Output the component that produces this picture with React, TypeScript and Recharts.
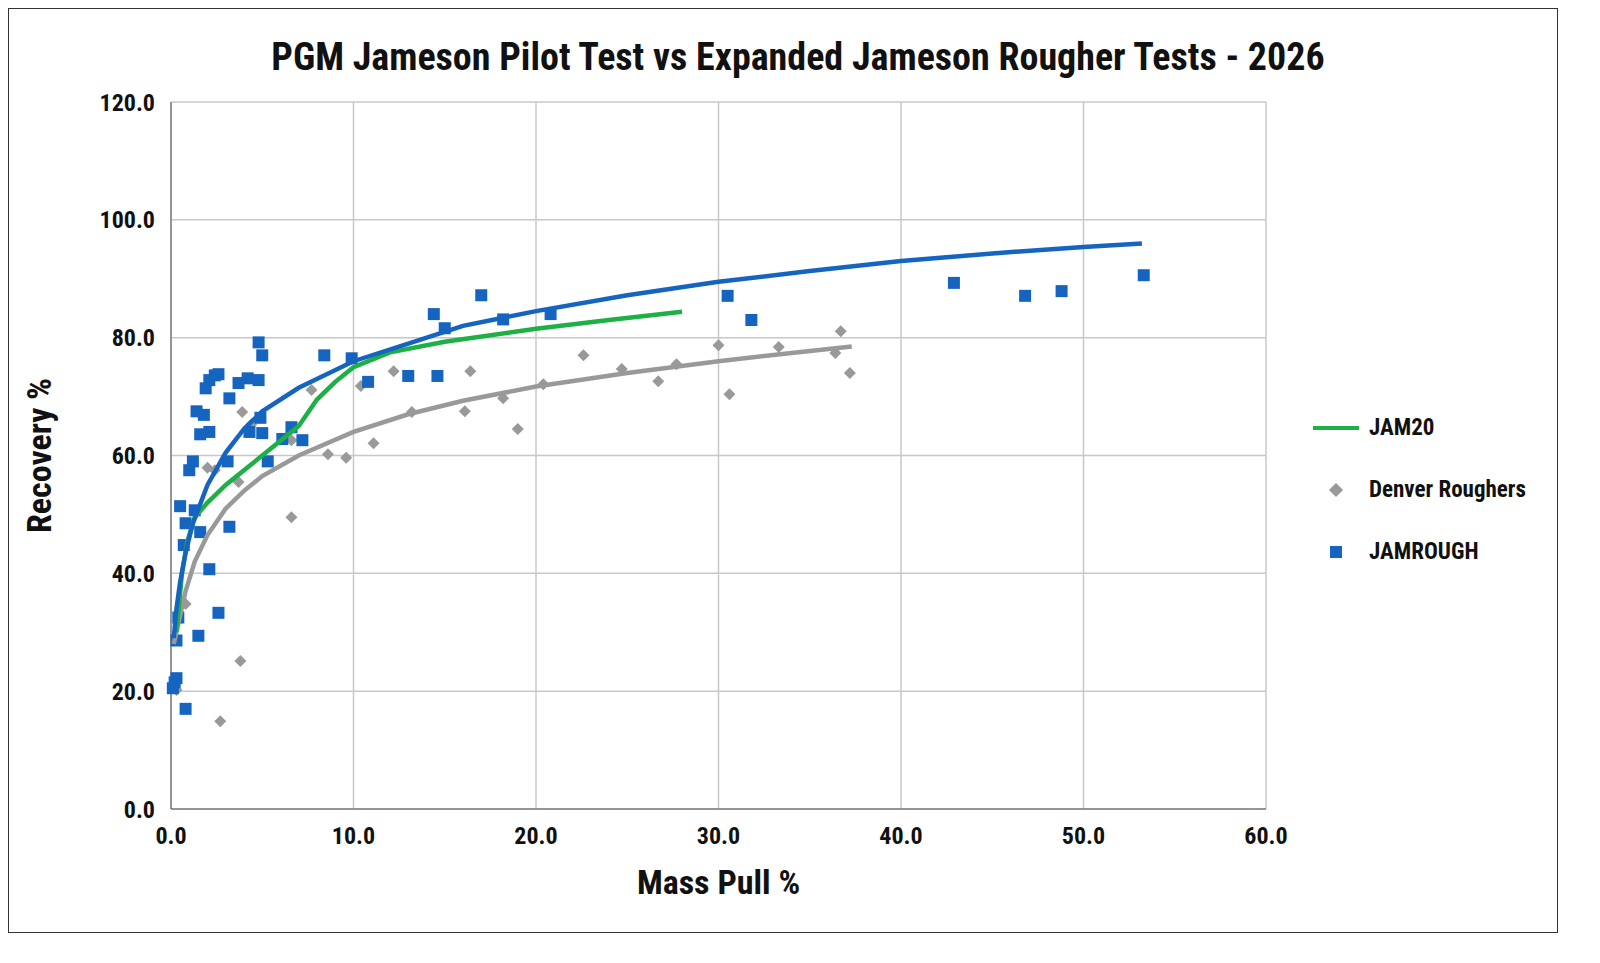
import { ComposedChart, Scatter, XAxis, YAxis, CartesianGrid } from "recharts";

const jamRough = [
  [0.1, 20.5], [0.3, 22.2], [0.2, 21.5], [0.8, 17], [0.5, 51.4], [0.7, 44.8], [0.8, 48.5], [0.3, 28.6], [0.4, 32.5],
  [1.0, 57.5], [1.2, 59], [1.3, 50.7], [1.5, 29.4], [1.6, 47], [1.4, 67.5], [1.6, 63.6], [1.8, 66.9],
  [1.9, 71.4], [2.1, 72.8], [2.4, 73.6], [2.6, 73.8], [2.1, 64], [2.1, 40.7], [2.6, 33.3], [3.2, 47.9],
  [3.1, 59], [3.2, 69.7], [3.7, 72.3], [4.2, 73.1], [4.3, 64], [4.8, 79.2], [5.0, 77], [4.8, 72.8],
  [4.9, 66.4], [5.0, 63.8], [5.3, 59], [6.1, 62.8], [6.6, 64.8], [7.2, 62.6], [8.4, 77], [9.9, 76.5],
  [10.8, 72.5], [13.0, 73.5], [14.4, 84], [14.6, 73.5], [15.0, 81.6], [17.0, 87.2], [18.2, 83.1],
  [20.8, 84], [30.5, 87.1], [31.8, 83], [42.9, 89.3], [46.8, 87.1], [48.8, 87.9], [53.3, 90.6],
].map(([x, y]) => ({ x, y }));

const denver = [
  [0.4, 32], [0.8, 34.8], [0.3, 20.2], [2.7, 14.9], [3.8, 25.1], [2.0, 57.9], [2.4, 57.5], [3.7, 55.5],
  [3.9, 67.4], [4.4, 65.3], [6.6, 49.5], [6.6, 62.6], [7.7, 71.1], [8.6, 60.2], [9.6, 59.6], [10.4, 71.8],
  [11.1, 62.1], [12.2, 74.3], [13.2, 67.4], [16.1, 67.5], [16.4, 74.3], [18.2, 69.7], [19.0, 64.5],
  [20.4, 72.1], [22.6, 77], [24.7, 74.7], [26.7, 72.6], [27.7, 75.5], [30.0, 78.7], [30.6, 70.4],
  [33.3, 78.4], [36.4, 77.4], [36.7, 81.1], [37.2, 74],
].map(([x, y]) => ({ x, y }));

// trend lines
const jamRoughTrend = [
  [0.15, 29], [0.3, 34], [0.5, 38.5], [0.8, 43.5], [1.2, 48.5], [2, 55], [3, 60.5], [4, 64.5], [5, 67.5],
  [7, 71.5], [10, 76], [13, 79], [16, 82], [20, 84.5], [25, 87.2], [30, 89.5], [35, 91.3], [40, 93],
  [45, 94.3], [50, 95.4], [53.2, 96],
].map(([x, y]) => ({ x, y }));

const jam20 = [
  [0.3, 30], [0.6, 40], [0.9, 45.5], [1.3, 49.5], [2, 52], [3, 55], [4, 57.5], [5, 60], [6, 62.5],
  [7, 65], [8, 69.5], [9, 72.5], [10, 75], [12, 77.5], [15, 79.3], [20, 81.5], [24, 83], [28, 84.4],
].map(([x, y]) => ({ x, y }));

const denverTrend = [
  [0.15, 28], [0.4, 31.5], [0.8, 37], [1.3, 42], [2, 46.5], [3, 51], [4, 54], [5, 56.5], [7, 60],
  [10, 64], [13, 67], [16, 69.3], [20, 71.7], [25, 74], [30, 76], [34, 77.4], [37.3, 78.5],
].map(([x, y]) => ({ x, y }));

const xTicks = [0, 10, 20, 30, 40, 50, 60];
const yTicks = [0, 20, 40, 60, 80, 100, 120];

const BLUE = "#1565c0";
const GREEN = "#1db045";
const GRAY = "#999999";
const FONT = "'Liberation Sans Narrow', 'Arial Narrow', 'Roboto Condensed', Roboto, sans-serif";

const Square = (p: any) => <rect x={p.cx - 6} y={p.cy - 6} width={12} height={12} fill={BLUE} />;
const Diamond = (p: any) => (
  <polygon points={`${p.cx},${p.cy - 6} ${p.cx + 6},${p.cy} ${p.cx},${p.cy + 6} ${p.cx - 6},${p.cy}`} fill={GRAY} />
);
const NoDot = () => null;

export default function App() {
  return (
    <div style={{ position: "relative", width: 1550, height: 925, border: "1.5px solid #333", boxSizing: "border-box", background: "#fff", fontFamily: FONT }}>
      <div style={{ position: "absolute", top: 26, left: 0, width: "100%", paddingLeft: 30, boxSizing: "border-box", textAlign: "center", fontSize: 38, fontWeight: 700, color: "#111" }}>
        PGM Jameson Pilot Test vs Expanded Jameson Rougher Tests - 2026
      </div>
      <ComposedChart width={1548} height={923} margin={{ top: 93, right: 291, left: 82, bottom: 93 }}>
        <CartesianGrid stroke="#c8c8c8" strokeWidth={1.5} />
        <XAxis type="number" dataKey="x" domain={[0, 60]} ticks={xTicks} tickFormatter={(v) => v.toFixed(1)}
          stroke="#555" tickLine={false} height={30} tickMargin={12} tick={{ fill: "#111", fontSize: 24, fontWeight: 700, fontFamily: FONT }}
          label={{ value: "Mass Pull %", position: "insideBottom", offset: -55, fill: "#111", fontSize: 34, fontWeight: 700, fontFamily: FONT }} />
        <YAxis type="number" dataKey="y" domain={[0, 120]} ticks={yTicks} tickFormatter={(v) => v.toFixed(1)}
          stroke="#555" tickLine={false} width={80} tickMargin={10} tick={{ fill: "#111", fontSize: 24, fontWeight: 700, fontFamily: FONT }}
          label={{ value: "Recovery %", angle: -90, position: "insideLeft", offset: -52, fill: "#111", fontSize: 34, fontWeight: 700, fontFamily: FONT, style: { textAnchor: "middle" } }} />
        <Scatter data={denver} shape={Diamond} isAnimationActive={false} />
        <Scatter data={jamRough} shape={Square} isAnimationActive={false} />
        <Scatter data={denverTrend} shape={NoDot} line={{ stroke: GRAY, strokeWidth: 4.5 }} lineType="joint" isAnimationActive={false} />
        <Scatter data={jam20} shape={NoDot} line={{ stroke: GREEN, strokeWidth: 4.5 }} lineType="joint" isAnimationActive={false} />
        <Scatter data={jamRoughTrend} shape={NoDot} line={{ stroke: BLUE, strokeWidth: 4.5 }} lineType="joint" isAnimationActive={false} />
      </ComposedChart>
      <div style={{ position: "absolute", left: 1304, top: 388, fontSize: 23, fontWeight: 700, color: "#111", lineHeight: "62px" }}>
        <div style={{ display: "flex", alignItems: "center" }}>
          <span style={{ width: 46, height: 4, background: GREEN, marginRight: 10 }} />JAM20
        </div>
        <div style={{ display: "flex", alignItems: "center" }}>
          <span style={{ width: 46, display: "flex", justifyContent: "center", marginRight: 10 }}>
            <span style={{ width: 10, height: 10, background: GRAY, transform: "rotate(45deg)" }} />
          </span>Denver Roughers
        </div>
        <div style={{ display: "flex", alignItems: "center" }}>
          <span style={{ width: 46, display: "flex", justifyContent: "center", marginRight: 10 }}>
            <span style={{ width: 12, height: 12, background: BLUE }} />
          </span>JAMROUGH
        </div>
      </div>
    </div>
  );
}
